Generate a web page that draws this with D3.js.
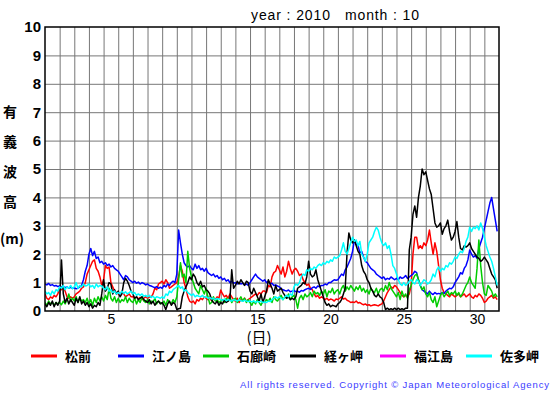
<!DOCTYPE html>
<html>
<head>
<meta charset="utf-8">
<script src="https://cdn.jsdelivr.net/npm/d3@7"></script>
<style>
  body { margin: 0; background: #fff; }
  svg { display: block; font-family: "Liberation Sans", Arial, sans-serif; }
</style>
</head>
<body>
<svg id="chart" width="555" height="395"></svg>
<script>
// significant wave height, Oct 2010, 3-hourly readings (8 per day)
const stations = ['松前', '江ノ島', '石廊崎', '経ヶ岬', '福江島', '佐多岬'];
const colors = ['#ff0000', '#0000ff', '#00cc00', '#000000', '#ff00ff', '#00ffff'];
const dayTicks = [5, 10, 15, 20, 25, 30];
const heightTicks = [0, 1, 2, 3, 4, 5, 6, 7, 8, 9, 10];
const stepsPerDay = 8;
const numDays = 31;

const matsumae = [
  0.6,0.45,0.4,0.5,0.45,0.55,0.5,0.6,
  0.8,0.75,0.85,0.7,0.5,0.45,0.5,0.45,
  0.5,0.6,0.65,0.7,0.8,0.85,1.0,1.3,
  1.45,1.6,1.75,1.8,1.5,1.4,1.2,0.9,
  1.1,1.6,1.5,1.55,1.0,0.85,0.7,0.65,
  0.6,0.55,0.7,0.6,0.5,0.55,0.6,0.5,
  0.5,0.45,0.5,0.42,0.48,0.4,0.45,0.5,
  0.45,0.5,0.48,0.6,0.8,0.75,0.95,1.0,
  1.05,0.95,1.1,1.0,0.8,0.85,0.9,0.95,
  1.0,1.2,1.6,1.4,1.0,0.8,0.5,0.35,
  0.3,0.35,0.25,0.4,0.35,0.45,0.4,0.5,
  0.45,0.4,0.5,0.35,0.45,0.4,0.5,0.45,
  0.74,0.6,0.5,0.55,0.45,0.6,0.5,0.4,
  0.35,0.45,0.3,0.4,0.35,0.45,0.35,0.4,
  0.45,0.5,0.55,0.6,0.55,0.65,0.6,0.7,
  0.7,0.65,0.9,0.85,1.2,1.35,1.4,1.6,
  1.45,1.3,1.55,1.2,1.4,1.75,1.5,1.3,
  1.45,1.5,1.4,1.25,1.3,1.1,1.0,0.9,
  0.95,0.8,0.75,0.6,0.5,0.55,0.45,0.5,
  0.45,0.4,0.45,0.38,0.42,0.4,0.35,0.42,
  0.4,0.45,0.5,0.42,0.45,0.38,0.35,0.3,
  0.32,0.3,0.35,0.28,0.3,0.25,0.22,0.25,
  0.2,0.22,0.18,0.2,0.22,0.2,0.18,0.22,
  0.25,0.35,0.5,0.65,0.75,0.85,0.8,0.9,
  0.85,0.75,0.65,0.55,0.5,0.55,0.5,0.6,
  0.9,2.0,2.6,2.6,2.2,2.3,2.2,2.4,
  2.3,2.5,2.85,2.4,2.0,2.4,2.1,1.6,
  1.1,0.8,0.65,0.6,0.55,0.5,0.6,0.55,
  0.5,0.55,0.6,0.5,0.55,0.6,0.5,0.55,
  0.6,0.5,0.45,0.55,0.5,0.6,0.55,0.45,
  0.3,0.35,0.45,0.5,0.55,0.45,0.5,0.4
];

const enoshima = [
  0.95,0.92,0.97,0.9,0.93,0.88,0.9,0.86,
  0.88,0.84,0.86,0.82,0.85,0.8,0.83,0.8,
  0.82,0.78,0.8,0.85,0.9,1.1,1.4,1.6,
  2.0,2.2,1.95,2.1,1.85,1.9,1.7,1.75,
  1.65,1.7,1.6,1.65,1.55,1.6,1.5,1.45,
  1.4,1.3,1.2,1.1,1.25,1.2,1.1,1.05,
  1.0,1.05,0.98,1.02,0.95,1.0,0.97,0.92,
  0.95,0.9,0.88,0.85,0.82,0.86,0.8,0.84,
  0.8,0.9,0.85,0.95,0.9,1.0,1.05,1.0,
  1.3,2.85,2.4,2.0,1.7,1.6,1.55,1.6,
  1.5,1.45,1.65,1.5,1.6,1.45,1.5,1.4,
  1.5,1.35,1.3,1.25,1.3,1.2,1.25,1.15,
  1.2,1.1,1.15,1.05,1.1,1.0,1.05,0.98,
  1.0,0.95,1.0,0.95,0.98,0.92,0.95,0.9,
  1.0,1.1,1.2,1.3,1.2,1.15,1.1,1.05,
  1.1,1.0,1.05,0.95,0.98,0.9,0.92,0.88,
  0.85,0.78,0.75,0.72,0.7,0.74,0.68,0.7,
  0.72,0.68,0.7,0.66,0.72,0.7,0.75,0.78,
  0.8,0.76,0.82,0.85,0.8,0.88,0.85,0.9,
  0.9,0.95,0.92,1.0,1.0,1.05,1.1,1.08,
  1.1,1.2,1.3,1.25,1.45,1.55,1.7,1.85,
  2.1,2.5,2.35,2.3,2.05,2.1,1.9,1.75,
  1.7,1.6,1.5,1.45,1.4,1.3,1.25,1.2,
  1.15,1.2,1.1,1.15,1.12,1.2,1.15,1.1,
  1.15,1.1,1.2,1.15,1.18,1.25,1.15,1.2,
  1.25,1.3,1.4,1.35,1.1,0.9,0.75,0.7,
  0.65,0.6,0.7,0.62,0.58,0.65,0.6,0.62,
  0.6,0.65,0.62,0.7,0.75,0.8,0.78,0.85,
  1.0,1.1,1.2,1.35,1.3,1.5,1.6,1.8,
  2.15,2.0,1.9,1.95,1.85,2.2,2.4,2.6,
  2.9,3.2,3.5,3.8,4.0,3.6,3.2,2.8
];

const irozaki = [
  0.3,0.2,0.35,0.25,0.3,0.2,0.3,0.25,
  0.3,0.22,0.35,0.25,0.4,0.6,0.35,0.45,
  0.35,0.5,0.3,0.45,0.35,0.4,0.3,0.45,
  0.25,0.4,0.2,0.45,0.3,0.5,0.35,0.5,
  0.35,0.55,0.4,0.8,0.45,0.35,0.5,0.3,
  0.45,0.3,0.4,0.35,0.5,0.3,0.45,0.35,
  0.3,0.45,0.25,0.4,0.3,0.5,0.35,0.3,
  0.4,0.25,0.35,0.3,0.45,0.25,0.35,0.3,
  0.25,0.35,0.2,0.4,0.3,0.25,0.4,0.3,
  0.5,1.1,1.7,1.2,1.3,1.0,2.1,1.5,
  1.2,1.0,0.8,0.7,0.6,0.9,0.75,0.6,
  0.8,0.5,0.25,0.3,0.5,0.35,0.4,0.3,
  0.35,0.4,0.3,0.45,0.35,0.5,0.3,0.4,
  0.45,0.3,0.4,0.5,0.35,0.45,0.3,0.4,
  0.3,0.2,0.35,0.25,0.4,0.3,0.2,0.35,
  0.3,0.4,0.35,0.45,0.3,0.5,0.4,0.35,
  0.45,0.55,0.4,0.5,0.45,0.6,0.4,0.5,
  0.55,0.4,0.1,0.45,0.55,0.4,0.6,0.5,
  0.55,0.65,0.5,0.7,0.6,0.65,0.55,0.7,
  0.6,0.75,0.5,0.7,0.65,0.8,0.6,0.7,
  0.75,0.6,0.8,0.9,0.7,0.85,0.75,0.9,
  0.8,0.7,0.85,0.75,0.9,0.7,0.8,0.65,
  0.75,0.6,0.8,0.7,0.65,0.8,0.6,0.75,
  0.8,0.7,0.9,0.75,1.0,0.8,0.7,0.6,
  0.5,0.65,0.4,0.7,0.5,0.6,0.45,0.75,
  0.9,1.1,1.25,1.3,1.1,0.9,0.75,0.85,
  0.6,0.5,0.65,0.4,0.3,0.5,0.15,0.35,
  0.55,0.65,0.5,0.6,0.7,0.55,0.65,0.6,
  0.7,0.55,0.65,0.5,0.6,0.75,0.9,1.0,
  1.2,1.0,0.9,0.8,1.5,2.5,1.6,1.0,
  0.6,0.55,0.9,0.8,0.7,0.5,0.6,0.5
];

const kyogamisaki = [
  0.25,0.15,0.3,0.2,0.35,0.15,0.3,0.2,
  0.35,1.8,0.6,0.3,0.45,0.25,0.4,0.3,
  0.2,0.45,0.3,0.5,0.25,0.35,0.2,0.3,
  0.15,0.25,0.1,0.2,0.15,0.3,0.2,0.6,
  1.1,0.7,0.8,1.0,0.95,0.6,0.75,0.6,
  0.7,0.5,0.6,1.0,1.15,1.05,0.9,0.7,
  0.6,0.45,0.5,0.4,0.45,0.5,0.4,0.35,
  0.3,0.4,0.25,0.35,0.2,0.3,0.35,0.25,
  0.3,0.2,0.05,0.25,0.35,0.2,0.3,0.25,
  0.05,0.08,0.1,0.5,0.7,0.85,1.0,1.2,
  1.1,1.3,1.2,1.0,0.9,1.05,0.85,0.9,
  0.75,0.7,0.6,0.4,0.3,0.25,0.35,0.2,
  0.3,0.25,0.4,0.3,0.35,0.4,1.45,0.8,
  0.9,1.05,0.95,1.1,1.0,0.9,1.05,1.0,
  0.7,0.6,0.8,0.65,0.5,0.35,0.6,0.3,
  0.5,0.7,1.1,0.95,0.8,0.6,0.9,0.7,
  0.75,0.8,0.65,0.55,0.45,0.5,0.4,0.45,
  0.4,0.5,0.8,0.85,0.9,1.0,0.95,1.2,
  1.75,1.3,1.2,1.25,1.45,1.1,0.9,0.7,
  0.5,0.3,0.2,0.25,0.15,0.2,0.18,0.15,
  0.25,0.3,0.4,0.6,0.8,2.05,2.75,2.5,
  2.4,2.5,2.3,2.1,2.0,1.6,1.4,1.3,
  1.1,1.0,0.8,0.7,0.55,0.5,0.6,0.5,
  0.45,0.3,0.05,0.1,0.05,0.08,0.05,0.1,
  0.05,0.1,0.05,0.08,0.05,0.1,0.1,2.15,
  2.6,3.4,3.7,3.3,4.0,4.4,5.0,4.8,
  4.9,4.6,4.3,4.1,3.6,3.1,2.95,3.0,
  3.1,2.7,2.9,3.0,3.2,2.8,2.5,2.6,
  2.8,3.15,2.6,2.2,2.15,2.3,2.25,2.3,
  2.4,2.2,2.1,2.0,1.9,1.85,1.75,1.8,
  1.9,1.8,1.7,1.5,1.3,1.2,1.1,0.8
];

const fukuejima = []; // no readings this month

const satamisaki = [
  0.7,0.6,0.65,0.55,0.7,0.6,0.75,0.7,
  0.85,0.8,0.9,0.75,0.85,0.8,0.9,0.78,
  0.85,1.0,0.8,0.9,0.85,0.95,0.88,0.9,
  0.95,0.85,0.9,0.8,0.95,0.85,0.9,0.88,
  0.8,0.75,0.85,0.7,0.75,0.65,0.7,0.6,
  0.65,0.6,0.7,0.62,0.68,0.6,0.65,0.7,
  0.6,0.65,0.55,0.6,0.55,0.6,0.52,0.55,
  0.5,0.55,0.48,0.52,0.45,0.5,0.48,0.45,
  0.5,0.45,0.6,0.55,0.7,0.65,0.75,0.8,
  0.85,0.9,0.8,0.85,0.7,0.75,0.65,0.6,
  0.55,0.6,0.5,0.55,0.52,0.5,0.55,0.48,
  0.5,0.45,0.48,0.42,0.45,0.4,0.44,0.42,
  0.4,0.38,0.42,0.36,0.4,0.38,0.35,0.4,
  0.38,0.35,0.4,0.36,0.34,0.38,0.35,0.33,
  0.35,0.32,0.36,0.3,0.34,0.32,0.35,0.3,
  0.32,0.3,0.35,0.33,0.4,0.45,0.5,0.45,
  0.5,0.45,0.4,0.5,0.55,0.5,0.6,0.55,
  0.85,0.95,0.9,1.0,1.2,1.3,1.25,1.45,
  1.4,1.5,1.45,1.55,1.5,1.6,1.65,1.6,
  1.7,1.65,1.75,1.7,1.8,1.75,1.9,1.85,
  1.9,1.95,2.15,2.4,2.1,2.0,2.2,2.4,
  2.6,2.45,2.5,2.3,2.45,2.0,1.9,1.75,
  2.0,2.4,2.5,2.6,2.8,2.95,2.85,2.6,
  2.4,2.3,2.4,2.2,2.3,2.0,1.6,1.5,
  1.3,1.1,0.95,0.9,1.0,0.9,0.95,1.05,
  1.1,1.0,0.95,1.1,1.05,0.9,1.0,1.1,
  1.05,0.95,1.0,1.1,1.3,1.2,1.45,1.55,
  1.4,1.5,1.45,1.6,1.55,1.7,1.65,1.75,
  1.9,1.85,2.0,2.1,2.05,2.2,2.45,2.6,
  2.95,2.8,2.95,2.9,3.0,2.85,3.1,2.9,
  2.6,2.3,2.1,1.9,1.75,1.5,1.2,0.9
];

const series = [matsumae, enoshima, irozaki, kyogamisaki, fukuejima, satamisaki];

const svg = d3.select('#chart');
const margin = { top: 27, right: 56, bottom: 84, left: 45 };
const width = 555, height = 395;

const x = d3.scaleLinear()
  .domain([0, numDays])
  .range([margin.left, width - margin.right]);

const y = d3.scaleLinear()
  .domain([0, 10])
  .range([height - margin.bottom, margin.top]);

// title
svg.append('text').attr('x', 251).attr('y', 20)
  .attr('font-size', 14).attr('textLength', 79).attr('lengthAdjust', 'spacing')
  .text('year : 2010');
svg.append('text').attr('x', 345).attr('y', 20)
  .attr('font-size', 14).attr('textLength', 74).attr('lengthAdjust', 'spacing')
  .text('month : 10');

// grid lines, one per day and per metre
svg.append('g')
  .attr('transform', `translate(0,${y(0)})`)
  .call(d3.axisBottom(x).tickValues(d3.range(1, numDays)).tickSize(-(y(0) - y(10))).tickFormat(''))
  .call(g => g.select('.domain').remove())
  .call(g => g.selectAll('line').attr('stroke', '#777'));

svg.append('g')
  .attr('transform', `translate(${x(0)},0)`)
  .call(d3.axisLeft(y).tickValues(d3.range(1, 10)).tickSize(-(x(numDays) - x(0))).tickFormat(''))
  .call(g => g.select('.domain').remove())
  .call(g => g.selectAll('line').attr('stroke', '#777'));

// series
const line = d3.line()
  .x((d, i) => x(i / stepsPerDay))
  .y(d => y(d));

svg.append('clipPath').attr('id', 'plot-clip')
  .append('rect')
  .attr('x', x(0)).attr('y', y(10))
  .attr('width', x(numDays) - x(0)).attr('height', y(0) - y(10));

svg.append('g').attr('clip-path', 'url(#plot-clip)')
  .selectAll('path')
  .data(series)
  .enter()
  .append('path')
  .attr('d', d => d.length ? line(d) : null)
  .attr('fill', 'none')
  .attr('stroke', (d, i) => colors[i])
  .attr('stroke-width', 1.5)
  .attr('stroke-linejoin', 'round');

// frame
svg.append('rect')
  .attr('x', x(0)).attr('y', y(10))
  .attr('width', x(numDays) - x(0)).attr('height', y(0) - y(10))
  .attr('fill', 'none').attr('stroke', '#000').attr('stroke-width', 1.5);

// y axis labels
svg.append('g')
  .attr('transform', `translate(${x(0)},0)`)
  .call(d3.axisLeft(y).tickValues(heightTicks).tickSize(0).tickPadding(4))
  .call(g => g.select('.domain').remove())
  .call(g => g.selectAll('text')
    .attr('font-size', 15).attr('font-weight', 'bold')
    .attr('font-family', '"Liberation Sans", Arial, sans-serif').attr('fill', '#000'));

// x axis labels, centred on each day
svg.append('g')
  .attr('transform', `translate(0,${y(0)})`)
  .call(d3.axisBottom(x).tickValues(dayTicks.map(d => d - 0.5)).tickFormat(d => d + 0.5).tickSize(0).tickPadding(3))
  .call(g => g.select('.domain').remove())
  .call(g => g.selectAll('text')
    .attr('font-size', 14)
    .attr('font-family', '"Liberation Sans", Arial, sans-serif').attr('fill', '#000'));

// axis titles
const yTitle = ['有', '義', '波', '高'];
svg.append('g').selectAll('text')
  .data(yTitle)
  .enter()
  .append('text')
  .attr('x', 10)
  .attr('y', (d, i) => 117 + i * 30)
  .attr('text-anchor', 'middle')
  .attr('font-size', 14)
  .attr('font-weight', 'bold')
  .attr('font-family', '"Noto Sans CJK JP", sans-serif')
  .text(d => d);

svg.append('text')
  .attr('x', 12).attr('y', 244)
  .attr('text-anchor', 'middle')
  .attr('font-size', 14).attr('font-weight', 'bold')
  .attr('font-family', '"Noto Sans CJK JP", sans-serif')
  .text('(m)');

svg.append('text')
  .attr('x', 259).attr('y', 343)
  .attr('text-anchor', 'middle')
  .attr('font-size', 15)
  .attr('font-family', '"Noto Sans CJK JP", sans-serif')
  .text('(日)');

// legend
const legendX = [31, 118, 203, 290, 380, 466];
const legend = svg.append('g').selectAll('g')
  .data(stations)
  .enter()
  .append('g')
  .attr('transform', (d, i) => `translate(${legendX[i]},356)`);

legend.append('line')
  .attr('x1', 0).attr('x2', 26)
  .attr('stroke', (d, i) => colors[i])
  .attr('stroke-width', 3);

legend.append('text')
  .attr('x', 34).attr('y', 5)
  .attr('font-size', 13).attr('font-weight', 'bold')
  .attr('font-family', '"Noto Sans CJK JP", sans-serif')
  .text(d => d);

// footer
svg.append('text')
  .attr('x', 240).attr('y', 388)
  .attr('font-size', 9.5)
  .attr('fill', '#3b3bff')
  .attr('textLength', 309)
  .attr('lengthAdjust', 'spacing')
  .text('All rights reserved. Copyright © Japan Meteorological Agency');
</script>
</body>
</html>
